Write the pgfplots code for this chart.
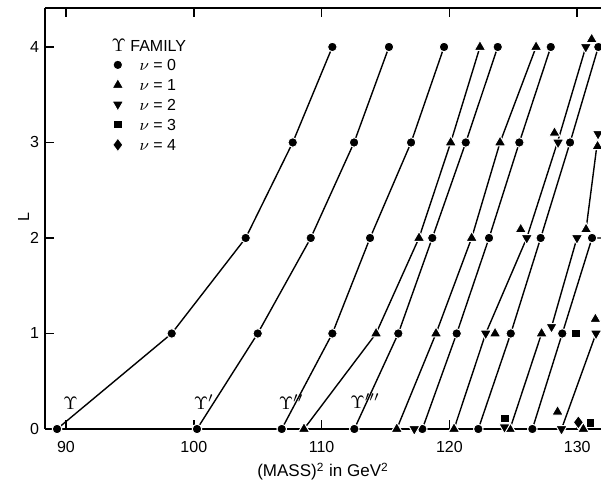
\documentclass[border=0pt]{standalone}
\usepackage{pgfplots}
\pgfplotsset{compat=1.18}
\usepackage{fontspec}
\setmainfont{Liberation Sans}
\pgfplotsset{
  traj/.style={black, line width=0.7pt, no marks, forget plot},
  mk/.style={only marks, mark options={draw=white, fill=black, line width=0.5pt}},
}
\begin{document}
\begin{tikzpicture}
\begin{axis}[
  name=ax,
  scale only axis,
  width=278pt, height=210.5pt,
  xmin=88.357, xmax=131.86,
  ymin=0, ymax=4.408,
  axis x line*=box,
  axis y line*=left,
  axis line style={-, line width=0.75pt},
  tick align=inside,
  major tick length=4.5pt,
  every tick/.style={black, line width=0.75pt},
  xtick={90,100,110,120,130},
  ytick={0,1,2,3,4},
  xticklabel style={yshift=-2.4pt},
  yticklabel style={xshift=0.5pt},
  tick label style={font=\fontsize{8}{9}\selectfont},
  /pgf/number format/assume math mode=true,
  clip mode=individual,
  legend cell align=left,
  legend image code/.code={\draw[#1] plot coordinates {(0pt,0pt)};},
  legend style={draw=none, fill=none, at={(0.1200,0.9264)}, anchor=north west,
    inner sep=0pt, row sep=3.75pt, column sep=8.0pt,
    font=\fontsize{8}{9}\selectfont,
    nodes={inner sep=0pt, text height=6pt, text depth=0pt}},
]
% trajectories
\addplot[traj] coordinates {(89.30,0) (98.27,1) (104.06,2) (107.74,3) (110.84,4)};
\addplot[traj] coordinates {(100.25,0) (105.00,1) (109.15,2) (112.54,3) (115.27,4)};
\addplot[traj] coordinates {(106.88,0) (110.84,1) (113.79,2) (117.00,3) (119.58,4)};
\addplot[traj] coordinates {(112.56,0) (116.00,1) (118.66,2) (121.28,3) (123.78,4)};
\addplot[traj] coordinates {(117.88,0) (120.57,1) (123.10,2) (125.47,3) (127.93,4)};
\addplot[traj] coordinates {(122.26,0) (124.80,1) (127.14,2) (129.44,3) (131.65,4)};
\addplot[traj] coordinates {(126.49,0) (128.83,1) (131.16,2) (132.2,2)};
\addplot[traj] coordinates {(108.62,0) (114.26,1) (117.62,2) (120.10,3) (122.39,4)};
\addplot[traj] coordinates {(115.88,0) (118.95,1) (121.74,2) (123.96,3) (126.78,4)};
\addplot[traj] coordinates {(120.36,0) (122.84,1) (126.05,2) (128.45,3) (130.67,4)};
\addplot[traj] coordinates {(124.74,0) (127.21,1)};
\addplot[traj] coordinates {(127.99,1.07) (129.98,2)};
\addplot[traj] coordinates {(130.69,2.09) (131.6,3.03)};
\addplot[traj] coordinates {(128.77,0) (131.47,1)};

\addlegendimage{empty legend}
\addlegendentry{\hspace*{-14pt}{\fontsize{9.5}{9}\selectfont$\Upsilon$} FAMILY}

% nu = 0
\addplot[mk, mark=*, mark size=2.4pt] coordinates {
 (89.30,0) (100.25,0) (106.88,0) (112.56,0) (117.88,0) (122.26,0) (126.49,0)
 (98.27,1) (105.00,1) (110.84,1) (116.00,1) (120.57,1) (124.80,1) (128.83,1)
 (104.06,2) (109.15,2) (113.79,2) (118.66,2) (123.10,2) (127.14,2) (131.16,2)
 (107.74,3) (112.54,3) (117.00,3) (121.28,3) (125.47,3) (129.44,3)
 (110.84,4) (115.27,4) (119.58,4) (123.78,4) (127.93,4) (131.65,4)};
\addlegendentry{$\nu$ = 0}
% nu = 1
\addplot[mk, mark=triangle*, mark size=3.3pt] coordinates {
 (108.62,0) (115.88,0) (120.36,0) (124.74,0) (130.48,0) (128.46,0.18)
 (114.26,1) (118.95,1) (123.57,1) (127.21,1) (131.42,1.15)
 (117.62,2) (121.74,2) (125.58,2.09) (130.69,2.09)
 (120.10,3) (123.96,3) (128.22,3.10) (131.59,2.96)
 (122.39,4) (126.78,4) (131.13,4.08)};
\addlegendentry{$\nu$ = 1}
% nu = 2
\addplot[mk, mark=triangle*, mark size=3.3pt, every mark/.append style={rotate=180}] coordinates {
 (117.25,0) (124.31,0.02) (128.77,0)
 (122.84,1) (127.99,1.07) (131.47,1)
 (126.05,2) (129.98,2)
 (128.50,3) (131.63,3.09)
 (130.67,4)};
\addlegendentry{$\nu$ = 2}
% nu = 3
\addplot[mk, mark=square*, mark size=2.2pt] coordinates {
 (124.35,0.11) (131.04,0.06) (129.88,1)};
\addlegendentry{$\nu$ = 3}
% nu = 4
\addplot[mk, mark=diamond*, mark size=3.4pt] coordinates {(130.09,0.07)};
\addlegendentry{$\nu$ = 4}

% state labels
\node[anchor=base west, font=\fontsize{9.5}{10}\selectfont] at (axis cs:89.25,0.20) {$\Upsilon$};
\node[anchor=base west, font=\fontsize{9.5}{10}\selectfont] at (axis cs:99.45,0.20) {$\Upsilon'$};
\node[anchor=base west, font=\fontsize{9.5}{10}\selectfont] at (axis cs:106.1,0.20) {$\Upsilon''$};
\node[anchor=base west, font=\fontsize{9.5}{10}\selectfont] at (axis cs:111.7,0.21) {$\Upsilon'''$};

% axis labels
\node[anchor=base, font=\fontsize{8.5}{10}\selectfont] at ([yshift=-24pt]axis cs:110.11,0) {(MASS)\textsuperscript{2} in GeV\textsuperscript{2}};
\node[rotate=90, font=\fontsize{8}{9}\selectfont] at ([xshift=-10.75pt]axis cs:88.357,2.215) {L};
\end{axis}
\pgfresetboundingbox
\useasboundingbox ([shift={(-22.5pt,-26.5pt)}]ax.south west) rectangle ([shift={(0pt,4pt)}]ax.north east);
\end{tikzpicture}
\end{document}
